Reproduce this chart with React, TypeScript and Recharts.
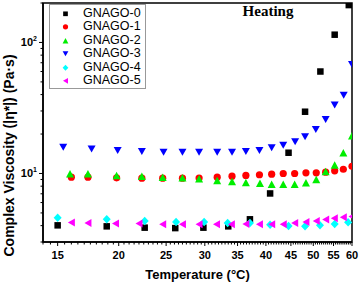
import React from 'react';
import { ScatterChart, Scatter, XAxis, YAxis, Legend, ReferenceArea } from 'recharts';

// Temperature (°C) and complex viscosity (Pa·s)
const temp0 = [15.0, 18.9, 22.6, 26.1, 29.8, 33.5, 37.1, 40.8, 44.5, 48.1, 51.7, 55.3, 59.1];
const visc0 = [4.02, 3.95, 3.86, 3.83, 3.86, 3.95, 4.47, 7.04, 14.4, 29.6, 60.0, 114.6, 192.8];

const temp1 = [16.0, 17.3, 19.8, 22.3, 24.6, 27.0, 29.2, 31.8, 34.1, 36.4, 38.8, 41.1, 43.4, 45.8, 48.3, 50.7, 53.0, 55.3, 57.6, 60];
const visc1 = [9.37, 9.37, 9.27, 9.21, 9.21, 9.21, 9.24, 9.37, 9.54, 9.66, 9.78, 9.88, 10.0, 10.0, 10.12, 10.12, 10.23, 10.48, 10.77, 11.36];

const temp2 = [15.9, 17.3, 19.8, 22.3, 24.6, 27.0, 29.2, 31.8, 34.1, 36.4, 38.9, 41.1, 43.4, 45.8, 48.3, 50.7, 53.0, 55.3, 57.6, 60];
const visc2 = [9.95, 9.95, 9.66, 9.54, 9.37, 9.27, 9.13, 8.84, 8.69, 8.54, 8.44, 8.29, 8.29, 8.29, 8.49, 9.0, 10.35, 11.6, 14.4, 19.4];

const temp3 = [15.4, 17.6, 19.9, 22.3, 24.7, 27.0, 29.2, 31.8, 34.1, 36.4, 38.8, 41.1, 43.4, 45.9, 48.1, 50.6, 53.0, 55.3, 57.7, 60];
const visc3 = [15.85, 15.4, 14.96, 14.7, 14.5, 14.5, 14.5, 14.5, 14.5, 14.7, 15.0, 15.7, 16.4, 17.5, 19.1, 21.7, 25.8, 33.3, 39.6, 68];

const temp4 = [15.0, 18.9, 22.6, 26.2, 29.9, 33.4, 37.1, 40.8, 44.5, 48.1, 51.6, 55.3, 58.9];
const visc4 = [4.6, 4.47, 4.34, 4.26, 4.26, 4.19, 4.19, 4.07, 3.97, 3.95, 4.02, 4.12, 4.24];

const temp5 = [16.0, 17.3, 19.7, 22.0, 24.6, 27.0, 29.2, 31.7, 34.0, 36.4, 38.8, 41.1, 43.4, 45.8, 48.3, 50.7, 53.0, 55.2, 57.6, 60];
const visc5 = [4.22, 4.19, 4.15, 4.15, 4.09, 4.09, 4.09, 4.09, 4.09, 4.11, 4.09, 4.09, 4.09, 4.19, 4.26, 4.34, 4.45, 4.55, 4.63, 4.69];

const seriesNames = ['GNAGO-0', 'GNAGO-1', 'GNAGO-2', 'GNAGO-3', 'GNAGO-4', 'GNAGO-5'];
const seriesColors = ['#000000', '#ff0000', '#00ee00', '#0000ff', '#00ffff', '#ff00ff'];
const seriesMarkers = ['square', 'circle', 'triUp', 'triDown', 'diamond', 'triLeft'];
const seriesTemps = [temp0, temp1, temp2, temp3, temp4, temp5];
const seriesViscs = [visc0, visc1, visc2, visc3, visc4, visc5];

const majorX = [15, 20, 25, 30, 35, 40, 45, 50, 55, 60];
const majorY = [10, 100];
const minorY = [3, 4, 5, 6, 7, 8, 9, 20, 30, 40, 50, 60, 70, 80, 90, 200];
const minorXStep = 0.5;

const xDomain = [14, 60];
const yDomain = [3, 200];

const minorX: number[] = [];
for (let t = xDomain[0]; t <= xDomain[1] + 1e-9; t += minorXStep) {
  if (!majorX.includes(t)) minorX.push(t);
}
const xTicks = [...majorX, ...minorX].sort((a, b) => a - b);
const yTicks = [...majorY, ...minorY].sort((a, b) => a - b);

const FONT = '"Liberation Sans", Arial, sans-serif';

function drawMarker(kind: string, cx: number, cy: number, k: number, color: string) {
  switch (kind) {
    case 'square': {
      const s = 6.5 * k;
      return <rect x={cx - s / 2} y={cy - s / 2} width={s} height={s} fill={color} />;
    }
    case 'circle':
      return <circle cx={cx} cy={cy} r={3.6 * k} fill={color} />;
    case 'triUp': {
      const w = 8 * k, h = 7.5 * k;
      return <polygon points={`${cx},${cy - h / 2} ${cx - w / 2},${cy + h / 2} ${cx + w / 2},${cy + h / 2}`} fill={color} />;
    }
    case 'triDown': {
      const w = 8 * k, h = 7 * k;
      return <polygon points={`${cx - w / 2},${cy - h / 2} ${cx + w / 2},${cy - h / 2} ${cx},${cy + h / 2}`} fill={color} />;
    }
    case 'diamond': {
      const w = 8 * k, h = 8.5 * k;
      return <polygon points={`${cx},${cy - h / 2} ${cx + w / 2},${cy} ${cx},${cy + h / 2} ${cx - w / 2},${cy}`} fill={color} />;
    }
    default: {
      const w = 7 * k, h = 8 * k;
      return <polygon points={`${cx - w / 2},${cy} ${cx + w / 2},${cy - h / 2} ${cx + w / 2},${cy + h / 2}`} fill={color} />;
    }
  }
}

const XTick = (props: any) => {
  const { x, y, payload } = props;
  const major = majorX.includes(payload.value);
  return (
    <g>
      <line x1={x} x2={x} y1={y} y2={y + (major ? 4 : 2.5)} stroke="#000" strokeWidth={1} />
      {major && (
        <text x={x} y={y + 17} textAnchor="middle" fontSize={11} fontWeight="bold" fontFamily={FONT} fill="#000">
          {payload.value}
        </text>
      )}
    </g>
  );
};

const YTick = (props: any) => {
  const { x, y, payload } = props;
  const major = majorY.includes(payload.value);
  const exp = Math.round(Math.log10(payload.value));
  return (
    <g>
      <line x1={x - (major ? 4 : 2.5)} x2={x} y1={y} y2={y} stroke="#000" strokeWidth={1} />
      {major && (
        <text x={x - 6} y={y + 4} textAnchor="end" fontSize={11} fontWeight="bold" fontFamily={FONT} fill="#000">
          10
          <tspan dy={-5} fontSize={7}>{exp}</tspan>
        </text>
      )}
    </g>
  );
};

const XLabel = (props: any) => {
  const vb = props.viewBox;
  return (
    <text x={vb.x + vb.width / 2} y={vb.y + 37} textAnchor="middle" fontSize={13} fontWeight="bold" fontFamily={FONT} fill="#000">
      Temperature (°C)
    </text>
  );
};

const YLabel = (props: any) => {
  const vb = props.viewBox;
  const cx = vb.x + 9;
  const cy = vb.y + vb.height / 2 + 33;
  return (
    <text x={cx} y={cy} transform={`rotate(-90 ${cx} ${cy})`} textAnchor="middle" dominantBaseline="central" fontSize={14} fontWeight="bold" fontFamily={FONT} fill="#000">
      Complex Viscosity (|η*|) (Pa·s)
    </text>
  );
};

const renderLegend = (props: any) => {
  const payload = props.payload || [];
  return (
    <div style={{ border: '1px solid #999', background: '#fff', width: 97, height: 85, boxSizing: 'border-box', paddingTop: 1.5 }}>
      {payload.map((entry: any) => {
        const i = seriesNames.indexOf(entry.value);
        return (
          <div key={entry.value} style={{ display: 'flex', alignItems: 'center', height: 13.6 }}>
            <svg width={33} height={13.6} style={{ display: 'block' }}>
              {drawMarker(seriesMarkers[i], 15.5, 6.8, 0.72, seriesColors[i])}
            </svg>
            <span style={{ fontFamily: FONT, fontSize: 12.5, lineHeight: '13.6px', color: '#000' }}>{entry.value}</span>
          </div>
        );
      })}
    </div>
  );
};

export default function App() {
  return (
    <div style={{ position: 'relative', width: 360, height: 283, background: '#fff' }}>
      <style>{'body{margin:0;}'}</style>
      <ScatterChart width={360} height={283} margin={{ top: 3, right: 8, bottom: 0, left: 0 }}>
        <XAxis
          dataKey="t"
          type="number"
          scale="log"
          domain={xDomain}
          allowDataOverflow
          ticks={xTicks}
          interval={0}
          tick={<XTick />}
          tickLine={false}
          tickSize={0}
          tickMargin={0}
          height={41}
          axisLine={{ stroke: '#000', strokeWidth: 1.5 }}
          label={XLabel}
        />
        <YAxis
          dataKey="v"
          type="number"
          scale="log"
          domain={yDomain}
          allowDataOverflow
          ticks={yTicks}
          interval={0}
          tick={<YTick />}
          tickLine={false}
          tickSize={0}
          tickMargin={0}
          width={43}
          axisLine={{ stroke: '#000', strokeWidth: 1.5 }}
          label={YLabel}
        />
        <ReferenceArea x1={xDomain[0]} x2={xDomain[1]} y1={yDomain[0]} y2={yDomain[1]} fill="none" stroke="#000" strokeWidth={1.5} ifOverflow="visible" />
        {seriesNames.map((name, i) => (
          <Scatter
            key={name}
            name={name}
            data={seriesTemps[i].map((t, j) => ({ t, v: seriesViscs[i][j] }))}
            fill={seriesColors[i]}
            isAnimationActive={false}
            shape={(p: any) => drawMarker(seriesMarkers[i], p.cx, p.cy, 1, seriesColors[i])}
          />
        ))}
        <Legend
          layout="vertical"
          align="center"
          verticalAlign="middle"
          content={renderLegend}
          wrapperStyle={{ left: 49, top: 4, width: 97, height: 85 }}
        />
      </ScatterChart>
      <div
        style={{
          position: 'absolute',
          left: 218,
          top: 4,
          width: 100,
          textAlign: 'center',
          fontFamily: '"Liberation Serif", "Times New Roman", serif',
          fontWeight: 'bold',
          fontSize: 15,
          lineHeight: '15px',
          color: '#000',
        }}
      >
        Heating
      </div>
    </div>
  );
}
